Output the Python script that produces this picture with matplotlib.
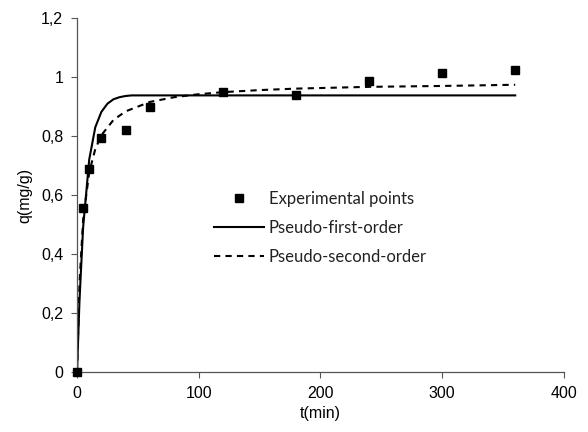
from matplotlib import pyplot as plt

# experimental points
t_exp = [0, 5, 10, 20, 40, 60, 120, 180, 240, 300, 360]
q_exp = [0, 0.555, 0.688, 0.795, 0.82, 0.90, 0.949, 0.941, 0.986, 1.013, 1.024]

# pseudo-first-order curve
t_pfo = [0, 2, 5, 10, 15, 20, 25, 30, 35, 40, 45, 60, 120, 180, 240, 300, 360]
q_pfo = [0, 0.24, 0.49, 0.72, 0.83, 0.882, 0.91, 0.925, 0.932, 0.936, 0.938,
         0.938, 0.938, 0.938, 0.938, 0.938, 0.938]

# pseudo-second-order curve
t_pso = [0, 2, 5, 10, 15, 20, 30, 40, 60, 80, 100, 120, 150, 180, 240, 300, 360]
q_pso = [0, 0.30, 0.516, 0.677, 0.756, 0.803, 0.855, 0.884, 0.916, 0.932,
         0.942, 0.949, 0.956, 0.961, 0.967, 0.970, 0.974]

x_ticks = [0, 100, 200, 300, 400]
y_ticks = [0, 0.2, 0.4, 0.6, 0.8, 1.0, 1.2]
y_ticklabels = ["0", "0,2", "0,4", "0,6", "0,8", "1", "1,2"]

plt.rcParams["font.family"] = ["Liberation Sans", "DejaVu Sans"]

fig = plt.figure(figsize=(5.88, 4.32), dpi=100)
ax = fig.add_axes([0.131, 0.139, 0.828, 0.819])

ax.plot(t_exp, q_exp, "s", color="black", markersize=6, label="Experimental points",
        zorder=3, clip_on=False)
ax.plot(t_pfo, q_pfo, "-", color="black", lw=1.5, label="Pseudo-first-order")
ax.plot(t_pso, q_pso, color="black", lw=1.5, linestyle=(0, (3, 2.5)),
        label="Pseudo-second-order")

ax.set_xlim(0, 400)
ax.set_ylim(0, 1.2)
ax.set_xticks(x_ticks)
ax.set_yticks(y_ticks)
ax.set_yticklabels(y_ticklabels)
ax.tick_params(labelsize=11.5, length=4, width=0.8, color="#555555", pad=6)
for s in ["top", "right"]:
    ax.spines[s].set_visible(False)
for s in ["left", "bottom"]:
    ax.spines[s].set_color("#555555")
    ax.spines[s].set_linewidth(0.9)

ax.set_xlabel("t(min)", fontsize=11.5, labelpad=4)
ax.set_ylabel("q(mg/g)", fontsize=11.5, labelpad=6)

leg = ax.legend(loc="upper left", bbox_to_anchor=(0.352, 0.473, 0.1, 0.1),
                bbox_transform=fig.transFigure, frameon=False,
                prop={"family": "Lato", "size": 12}, handlelength=3.0,
                handletextpad=0.3, labelspacing=0.78, borderaxespad=0)
for txt in leg.get_texts():
    txt.set_color("#222222")

fig.savefig("out.png", dpi=100)
